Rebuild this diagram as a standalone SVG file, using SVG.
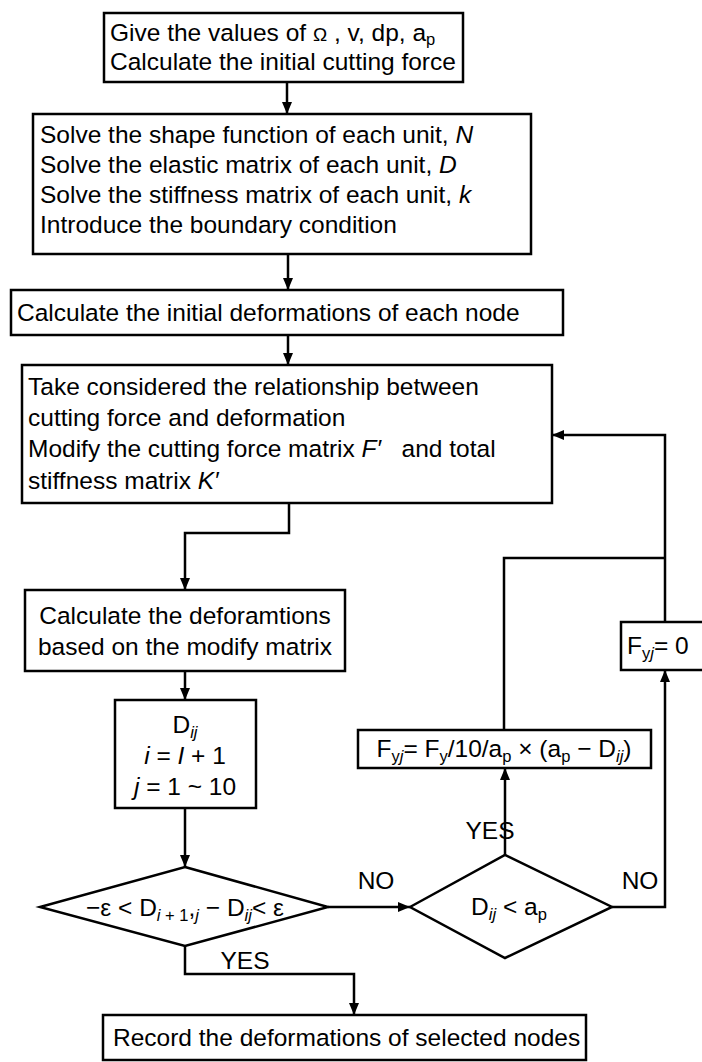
<svg xmlns="http://www.w3.org/2000/svg" width="702" height="1062" viewBox="0 0 702 1062">
<defs>
<style>
.box{fill:#fff;stroke:#000;stroke-width:2.5}
.ln{fill:none;stroke:#000;stroke-width:2.5}
.t{font-family:"Liberation Sans",Arial,sans-serif;font-size:24.5px;fill:#000}
.m{text-anchor:middle}
.i{font-style:italic}
.s{font-size:16.5px}
</style>
<marker id="ah" viewBox="0 0 12 10" refX="12" refY="5" markerWidth="12" markerHeight="10" markerUnits="userSpaceOnUse" orient="auto">
<path d="M0,0 L12,5 L0,10 Z" fill="#000"/>
</marker>
</defs>
<rect width="702" height="1062" fill="#fff"/>
<g id="connectors">
<path class="ln" d="M287,82 V114" marker-end="url(#ah)"/>
<path class="ln" d="M288,254 V290" marker-end="url(#ah)"/>
<path class="ln" d="M288,335 V365" marker-end="url(#ah)"/>
<path class="ln" d="M289,503 V533 H185 V590" marker-end="url(#ah)"/>
<path class="ln" d="M185,671 V700" marker-end="url(#ah)"/>
<path class="ln" d="M185,808 V867" marker-end="url(#ah)"/>
<path class="ln" d="M328,907 H410" marker-end="url(#ah)"/>
<path class="ln" d="M505,855 V768" marker-end="url(#ah)"/>
<path class="ln" d="M504,730 V558 H665"/>
<path class="ln" d="M612,907 H665 V670" marker-end="url(#ah)"/>
<path class="ln" d="M665,622 V435 H552" marker-end="url(#ah)"/>
<path class="ln" d="M185,946 V974 H354 V1015" marker-end="url(#ah)"/>
<text class="t" x="376" y="889" text-anchor="middle">NO</text>
<text class="t" x="490" y="839" text-anchor="middle">YES</text>
<text class="t" x="640" y="889" text-anchor="middle">NO</text>
<text class="t" x="245" y="969" text-anchor="middle">YES</text>
</g>
<g id="n1">
<rect class="box" x="104" y="13" width="359" height="69"/>
<text class="t" x="110" y="41" xml:space="preserve">Give the values of <tspan font-size="19">Ω</tspan> , v, dp, a<tspan class="s" dy="4">p</tspan></text>
<text class="t" x="110" y="70">Calculate the initial cutting force</text>
</g>
<g id="n2">
<rect class="box" x="33" y="114" width="498" height="140"/>
<text class="t" x="40" y="143">Solve the shape function of each unit, <tspan class="i">N</tspan></text>
<text class="t" x="40" y="173">Solve the elastic matrix of each unit, <tspan class="i">D</tspan></text>
<text class="t" x="40" y="203">Solve the stiffness matrix of each unit, <tspan class="i">k</tspan></text>
<text class="t" x="40" y="233">Introduce the boundary condition</text>
</g>
<g id="n3">
<rect class="box" x="11" y="290" width="552" height="45"/>
<text class="t" x="17" y="321">Calculate the initial deformations of each node</text>
</g>
<g id="n4">
<rect class="box" x="22" y="365" width="530" height="138"/>
<text class="t" x="28" y="395">Take considered the relationship between</text>
<text class="t" x="28" y="426">cutting force and deformation</text>
<text class="t" x="28" y="457" xml:space="preserve">Modify the cutting force matrix <tspan class="i">F′</tspan>   and total</text>
<text class="t" x="28" y="489">stiffness matrix <tspan class="i">K′</tspan></text>
</g>
<g id="n5">
<rect class="box" x="25" y="590" width="320" height="81"/>
<text class="t m" x="185" y="624">Calculate the deforamtions</text>
<text class="t m" x="185" y="655">based on the modify matrix</text>
</g>
<g id="n6">
<rect class="box" x="115" y="700" width="141" height="108"/>
<text class="t m" x="185" y="733">D<tspan class="s i" dy="5">ij</tspan></text>
<text class="t m" x="185" y="764"><tspan class="i">i</tspan> = <tspan class="i">I</tspan> + 1</text>
<text class="t m" x="185" y="795"><tspan class="i">j</tspan> = 1 ~ 10</text>
</g>
<g id="n7">
<polygon class="box" points="185,867 328,907 185,946 40,907"/>
<text class="t m" x="185" y="916">−ε &lt; D<tspan class="s" dy="5"><tspan class="i">i</tspan> + 1</tspan><tspan dy="-5">,</tspan><tspan class="s i" dy="5">j</tspan><tspan dy="-5"> − D</tspan><tspan class="s i" dy="5">ij</tspan><tspan dy="-5">&lt; ε</tspan></text>
</g>
<g id="n8">
<polygon class="box" points="410,907 505,855 612,907 505,958"/>
<text class="t m" x="509" y="915">D<tspan class="s i" dy="5">ij</tspan><tspan dy="-5"> &lt; a</tspan><tspan class="s" dy="5">p</tspan></text>
</g>
<g id="n9">
<rect class="box" x="358" y="730" width="293" height="38"/>
<text class="t m" x="504" y="757">F<tspan class="s" dy="5">y<tspan class="i">j</tspan></tspan><tspan dy="-5">= F</tspan><tspan class="s" dy="5">y</tspan><tspan dy="-5">/10/a</tspan><tspan class="s" dy="5">p</tspan><tspan dy="-5"> × (a</tspan><tspan class="s" dy="5">p</tspan><tspan dy="-5"> − D</tspan><tspan class="s i" dy="5">ij</tspan><tspan dy="-5">)</tspan></text>
</g>
<g id="n10">
<rect class="box" x="621" y="622" width="90" height="48"/>
<text class="t" x="627" y="654">F<tspan class="s" dy="5">y<tspan class="i">j</tspan></tspan><tspan dy="-5">= 0</tspan></text>
</g>
<g id="n11">
<rect class="box" x="103" y="1015" width="483" height="45"/>
<text class="t" x="113" y="1046">Record the deformations of selected nodes</text>
</g>
</svg>
